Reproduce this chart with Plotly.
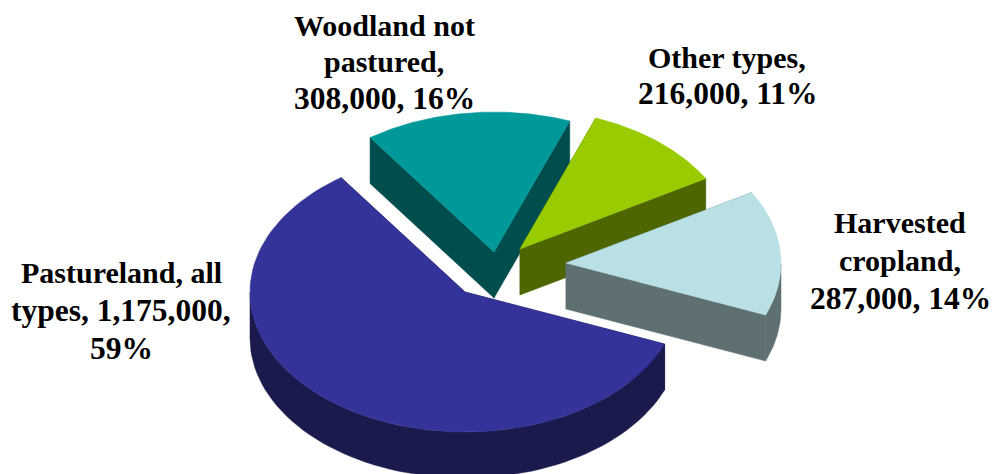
import numpy as np
import plotly.graph_objects as go

# data
categories = ["Woodland not pastured", "Other types", "Harvested cropland", "Pastureland, all types"]
values = [308000, 216000, 287000, 1175000]
percents = [16, 11, 14, 59]

# label line breaks
label_lines = [
    ["Woodland not", "pastured,", "308,000, 16%"],
    ["Other types,", "216,000, 11%"],
    ["Harvested", "cropland,", "287,000, 14%"],
    ["Pastureland, all", "types, 1,175,000,", "59%"],
]

# styling / geometry of the tilted pie
top_colors = ["#009999", "#99cc00", "#b9e0e4", "#333399"]
side_colors = ["#004d4d", "#4d6600", "#5f7072", "#1a1a4d"]
apexes = [(494, 252), (520, 249), (566, 263), (465, 292)]
label_x = [384, 727, 900, 121]
label_first_y = [25, 57, 222, 272]
line_steps = [36.5, 36, 38, 38]
RX, RY, DEPTH = 215, 140, 46
START_DEG = 125.2

fig = go.Figure()


def ell(cx, cy, t, dy=0):
    r = np.radians(t)
    return cx + RX * np.cos(r), cy - RY * np.sin(r) + dy


def poly(xs, ys, color):
    fig.add_trace(go.Scatter(x=xs, y=ys, mode="lines", fill="toself", fillcolor=color,
                             line=dict(width=0.5, color=color), hoverinfo="skip", showlegend=False))


total = sum(values)
angle = START_DEG
for i, v in enumerate(values):
    sweep = 360 * v / total
    t0, t1 = angle, angle - sweep
    angle = t1
    cx, cy = apexes[i]
    ts = np.linspace(t0, t1, 90)

    # cut walls
    for t in (t0, t1):
        ex, ey = ell(cx, cy, t)
        poly([cx, ex, ex, cx, cx], [cy, ey, ey + DEPTH, cy + DEPTH, cy], side_colors[i])

    # outer rim (only the front half of the ellipse shows)
    tm = (ts + 360) % 360
    mask = (tm >= 180) & (tm <= 360)
    if mask.any():
        rt = ts[mask]
        ax, ay = ell(cx, cy, rt)
        bx, by = ell(cx, cy, rt, DEPTH)
        poly(list(ax) + list(bx[::-1]) + [ax[0]], list(ay) + list(by[::-1]) + [ay[0]], side_colors[i])

    # top face
    x, y = ell(cx, cy, ts)
    poly([cx] + list(x) + [cx], [cy] + list(y) + [cy], top_colors[i])

annotations = []
for lines, lx, fy, step in zip(label_lines, label_x, label_first_y, line_steps):
    for j, s in enumerate(lines):
        size = 31.5 if any(c.isdigit() for c in s) else 30
        annotations.append(dict(x=lx, y=fy + j * step, text="<b>" + s + "</b>", showarrow=False,
                                xanchor="center", yanchor="middle",
                                font=dict(family="Liberation Serif", size=size, color="#000000")))

fig.update_layout(
    width=993, height=474, margin=dict(l=0, r=0, t=0, b=0),
    paper_bgcolor="#ffffff", plot_bgcolor="#ffffff", showlegend=False,
    xaxis=dict(range=[0, 993], visible=False, fixedrange=True),
    yaxis=dict(range=[474, 0], visible=False, fixedrange=True),
    annotations=annotations,
)
fig.write_html("out.html", config={"displayModeBar": False},
               post_script="document.body.style.margin='0';document.body.style.overflow='hidden';")
